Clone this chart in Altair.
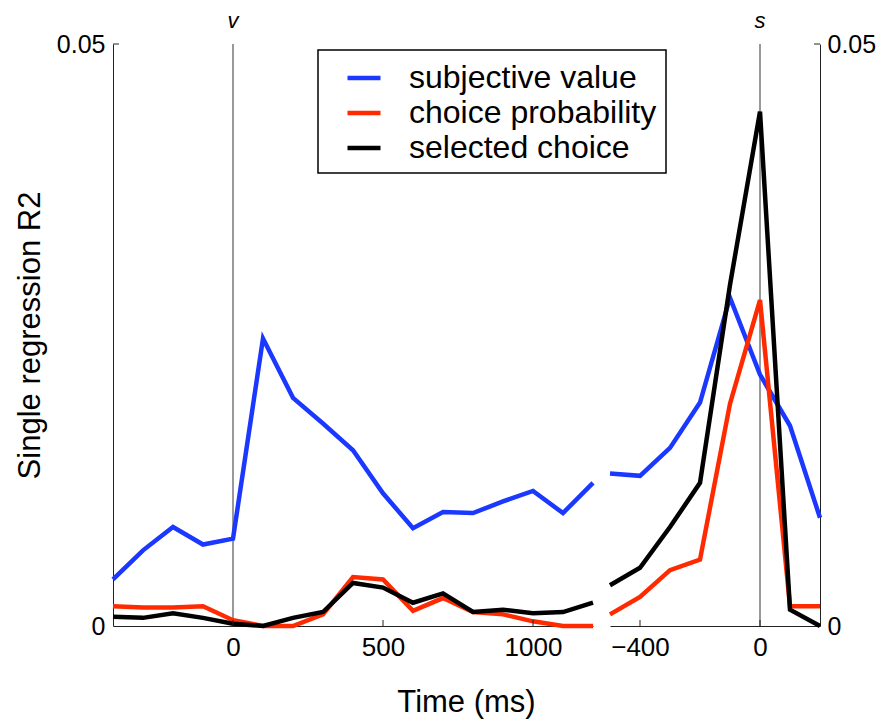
import altair as alt
import pandas as pd

# ---------------- data ----------------
series_names = ["subjective value", "choice probability", "selected choice"]
series_colors = ["#1a38ff", "#ff2a00", "#000000"]

# aligned to value onset (v)
t_left = [-400, -300, -200, -100, 0, 100, 200, 300, 400, 500, 600, 700, 800, 900, 1000, 1100, 1200]
sv_left = [0.0040, 0.0065, 0.0085, 0.0070, 0.0075, 0.0247, 0.0196, 0.0174, 0.0151, 0.0114, 0.0084,
           0.0098, 0.0097, 0.0107, 0.0116, 0.0097, 0.0123]
cp_left = [0.0017, 0.0016, 0.0016, 0.0017, 0.0005, 0.0000, 0.0000, 0.0010, 0.0042, 0.0040, 0.0013,
           0.0024, 0.0012, 0.0010, 0.0004, 0.0000, 0.0000]
sc_left = [0.0008, 0.0007, 0.0011, 0.0007, 0.0002, 0.0000, 0.0007, 0.0012, 0.0037, 0.0033, 0.0020,
           0.0028, 0.0012, 0.0014, 0.0011, 0.0012, 0.0020]

# aligned to saccade (s)
t_right = [-500, -400, -300, -200, -100, 0, 100, 200]
sv_right = [0.0131, 0.0129, 0.0153, 0.0192, 0.0282, 0.0216, 0.0172, 0.0093]
cp_right = [0.0010, 0.0025, 0.0048, 0.0057, 0.0191, 0.0280, 0.0017, 0.0017]
sc_right = [0.0035, 0.0050, 0.0085, 0.0123, 0.0293, 0.0442, 0.0014, 0.0000]

xticks_left = [0, 500, 1000]
xticks_right = [-400, 0]
yticks = [0, 0.05]
x_domain_left = [-400, 1200]
x_domain_right = [-500, 200]
y_domain = [0, 0.05]


def long_df(ts, lists):
    rows = []
    for name, vals in zip(series_names, lists):
        for t, v in zip(ts, vals):
            rows.append({"t": t, "r2": v, "series": name})
    return pd.DataFrame(rows)


df_left = long_df(t_left, [sv_left, cp_left, sc_left])
df_right = long_df(t_right, [sv_right, cp_right, sc_right])

# ---------------- styling ----------------
FONT = "Liberation Sans"
W, H = 707, 582
LEFT_RANGE = [0, 480]
RIGHT_RANGE = [497, 707]
AXIS_COLOR = "#222222"
LW = 4.5

color_enc = alt.Color(
    "series:N",
    scale=alt.Scale(domain=series_names, range=series_colors),
    legend=alt.Legend(
        orient="none", legendX=205, legendY=6, title=None,
        symbolType="stroke", symbolStrokeWidth=4.5, symbolSize=1089,
        symbolOffset=18, labelOffset=26, padding=9, rowPadding=0,
        labelFontSize=32, labelFont=FONT, labelColor="#000000", labelLimit=500,
        strokeColor="#000000", fillColor="#ffffff",
    ),
)


def panel(df, x_domain, x_range, xtick_vals, y_orient, x_title, label_text, tick_dir):
    x_axis_kwargs = dict(
        values=xtick_vals, orient="bottom", grid=False, ticks=False, tickSize=0, format="d",
        domainColor=AXIS_COLOR, domainWidth=1, labelFont=FONT, labelFontSize=26,
        labelColor="#000000", labelPadding=8, labelFlush=False,
    )
    if x_title:
        x_axis_kwargs.update(title=x_title, titleFont=FONT, titleFontSize=31,
                             titleFontWeight="normal", titleColor="#000000",
                             titleX=353, titleY=85, titleBaseline="alphabetic",
                             titleAlign="center")
    else:
        x_axis_kwargs.update(title=None)

    y_axis_kwargs = dict(
        values=yticks, orient=y_orient, grid=False, ticks=False, tickSize=0,
        format="~g", domainColor=AXIS_COLOR, domainWidth=1, labelFont=FONT,
        labelFontSize=25, labelColor="#000000", labelFlush=False,
        labelPadding=8 if y_orient == "left" else 7,
    )
    if y_orient == "left":
        y_axis_kwargs.update(title="Single regression R2", titleFont=FONT, titleFontSize=31,
                             titleFontWeight="normal", titleColor="#000000", titlePadding=10)
    else:
        y_axis_kwargs.update(title=None)

    x_enc = alt.X("t:Q", scale=alt.Scale(domain=x_domain, range=x_range, nice=False, zero=False),
                  axis=alt.Axis(**x_axis_kwargs))
    y_enc = alt.Y("r2:Q", scale=alt.Scale(domain=y_domain, nice=False, zero=False),
                  axis=alt.Axis(**y_axis_kwargs))

    base = alt.Chart(df)
    lines = [
        base.transform_filter(alt.datum.series == name)
        .mark_line(strokeWidth=LW, strokeCap="butt", strokeJoin="miter")
        .encode(x=x_enc, y=y_enc, color=color_enc)
        for name in series_names
    ]

    zero_rule = alt.Chart(pd.DataFrame({"t": [0]})).mark_rule(
        color="#555555", strokeWidth=1.2
    ).encode(x="t:Q", y=alt.value(0), y2=alt.value(H))

    event_label = alt.Chart(pd.DataFrame({"t": [0], "lab": [label_text]})).mark_text(
        font=FONT, fontSize=22, fontStyle="italic", baseline="alphabetic", align="center",
        color="#000000",
    ).encode(x="t:Q", y=alt.value(-16), text="lab:N")

    xtick_rules = alt.Chart(pd.DataFrame({"t": xtick_vals})).mark_rule(
        color=AXIS_COLOR, strokeWidth=1
    ).encode(x="t:Q", y=alt.value(H), y2=alt.value(H - 6))

    edge = x_range[0] if y_orient == "left" else x_range[1]
    ytick_rule = alt.Chart(pd.DataFrame({"r2": [0.05]})).mark_rule(
        color=AXIS_COLOR, strokeWidth=1
    ).encode(y="r2:Q", x=alt.value(edge), x2=alt.value(edge + 6 * tick_dir))

    return alt.layer(zero_rule, *lines, event_label, xtick_rules, ytick_rule)


left = panel(df_left, x_domain_left, LEFT_RANGE, xticks_left, "left", "Time (ms)", "v", 1)
right = panel(df_right, x_domain_right, RIGHT_RANGE, xticks_right, "right", None, "s", -1)

chart = (
    alt.layer(left, right)
    .resolve_scale(x="independent", y="independent")
    .resolve_axis(x="independent", y="independent")
    .properties(
        width=W, height=H,
        autosize=alt.AutoSizeParams(type="none"),
        padding={"left": 105, "top": 36, "right": 56, "bottom": 93},
        background="#ffffff",
    )
    .configure_view(stroke=None)
    .configure_legend(strokeWidth=1.5)
)

chart.save("out.html", embed_options={"renderer": "svg", "actions": False})
